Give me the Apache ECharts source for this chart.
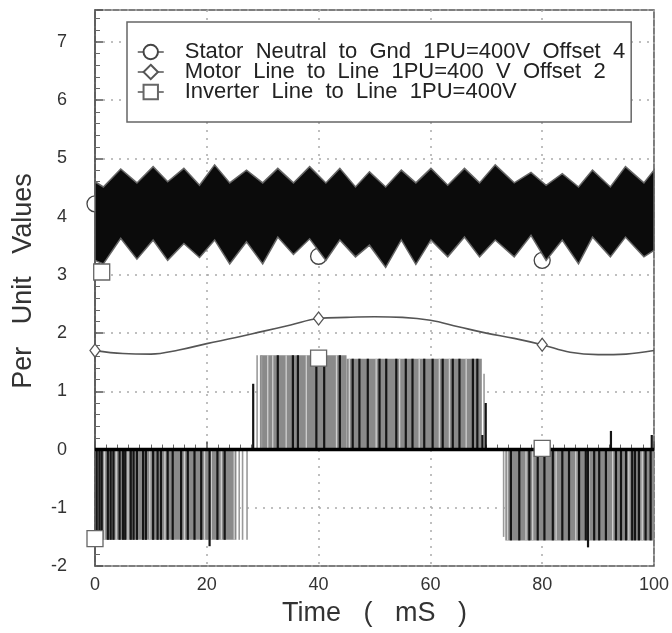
<!DOCTYPE html>
<html><head><meta charset="utf-8">
<script src="https://cdn.jsdelivr.net/npm/echarts@6/dist/echarts.min.js"></script>
<style>html,body{margin:0;padding:0;background:#fff}#c{width:672px;height:633px}</style>
</head><body><div id="c"></div>
<script>
// ---- data ----
const legendNames = ['Stator Neutral to Gnd 1PU=400V Offset 4', 'Motor Line to Line 1PU=400 V Offset 2', 'Inverter Line to Line 1PU=400V'];
const xTicks = [0, 20, 40, 60, 80, 100];
const yTicks = [-2, -1, 0, 1, 2, 3, 4, 5, 6, 7];

// Stator neutral (offset 4): envelope of the dense band
const statorT  = [0,1.5,4.6,7.5,10.4,13.0,15.9,18.7,21.4,24.1,27.1,30.0,32.7,35.5,38.4,41.3,43.8,46.6,49.1,52.0,54.8,57.4,60.1,63.1,66.1,68.8,71.6,75.0,78.0,80.7,83.6,86.5,89.0,92.2,94.9,98.2,100];
const statorHi = [4.60,4.51,4.82,4.58,4.86,4.60,4.83,4.54,4.89,4.58,4.80,4.58,4.83,4.58,4.86,4.58,4.83,4.51,4.77,4.51,4.80,4.58,4.83,4.54,4.83,4.58,4.89,4.58,4.76,4.54,4.74,4.51,4.80,4.51,4.86,4.58,4.80];
const statorLo = [3.25,3.19,3.63,3.27,3.60,3.25,3.54,3.30,3.60,3.19,3.57,3.19,3.65,3.35,3.62,3.25,3.60,3.31,3.51,3.13,3.60,3.18,3.60,3.31,3.65,3.31,3.60,3.31,3.68,3.25,3.60,3.19,3.65,3.31,3.65,3.31,3.42];
const statorMarkT = [0, 40, 80];
const statorMarkV = [4.22, 3.32, 3.25];

// Motor line to line (offset 2)
const motorT = [0,5,10,15,20,25,30,35,40,45,50,55,60,65,70,75,80,85,90,95,100];
const motorV = [1.70,1.65,1.64,1.71,1.82,1.92,2.03,2.14,2.25,2.27,2.28,2.27,2.22,2.11,2.00,1.91,1.80,1.67,1.63,1.64,1.70];
const motorMarkT = [0, 40, 80];
const motorMarkV = [1.70, 2.25, 1.80];

// Inverter line to line (PWM)
const invMarkT = [0, 1.2, 40, 80];
const invMarkV = [-1.53, 3.05, 1.57, 0.02];
const invBaseT = [0, 100];
const invBaseV = [0, 0];
const invBlockStart = [0, 29.5, 45, 73.4];
const invBlockEnd   = [25.3, 45, 69.2, 100];
const invBlockLevel = [-1.55, 1.62, 1.56, -1.56];
const pulseDark = [
 [0.3,-1.55],[0.8,-1.55],[1.2,-1.55],[2.3,-1.55],[2.8,-1.55],[3.3,-1.55],[4.4,-1.55],[5.0,-1.55],[5.4,-1.55],[6.4,-1.55],[6.9,-1.55],[7.5,-1.55],[8.6,-1.55],[9.1,-1.55],[10.4,-1.55],[11.2,-1.55],[11.8,-1.55],[13.0,-1.55],[13.9,-1.55],[15.4,-1.55],[16.6,-1.55],[17.8,-1.55],[19.0,-1.55],[20.5,-1.66],[21.9,-1.55],[23.2,-1.55],
 [28.3,1.13],[32.7,1.62],[35.4,1.62],[36.3,1.62],[39.6,1.62],[41.0,1.62],[43.8,1.62],[46.1,1.56],[47.3,1.56],[48.8,1.56],[50.9,1.56],[52.1,1.56],[53.9,1.56],[55.6,1.56],[56.8,1.56],[58.9,1.56],[60.4,1.56],[62.2,1.56],[64.0,1.56],[65.2,1.56],[67.6,1.56],[68.4,1.56],[69.3,0.25],[69.9,0.8],
 [74.4,-1.56],[75.9,-1.56],[77.7,-1.56],[79.2,-1.56],[80.4,-1.56],[81.9,-1.56],[83.6,-1.56],[84.8,-1.56],[86.6,-1.56],[87.8,-1.56],[88.2,-1.68],[89.3,-1.56],[90.2,-1.56],[91.4,-1.56],[92.3,0.32],[93.2,-1.56],[94.1,-1.56],[95.0,-1.56],[96.1,-1.56],[96.6,-1.56],[97.3,-1.56],[98.5,-1.56],[99.4,-1.56],[99.6,0.25]
];
const pulseLight = [
 [1.7,-1.55],[3.8,-1.55],[5.9,-1.55],[9.8,-1.55],[12.5,-1.55],[16.0,-1.55],[19.6,-1.55],[20.8,-1.55],[22.6,-1.55],[24.9,-1.55],
 [30.9,1.62],[31.8,1.62],[34.2,1.62],[37.8,1.62],[43.2,1.62],[45.5,1.56],[50.3,1.56],[54.5,1.56],[58.0,1.56],[61.6,1.56],[63.4,1.56],[66.4,1.56],
 [73.8,-1.56],[77.1,-1.56],[78.3,-1.56],[82.5,-1.56],[86.0,-1.56],[88.4,-1.56],[92.6,-1.56],[95.5,-1.56],[97.9,-1.56]
];
const pulseMid = [[25.8,-1.55],[26.4,-1.55],[27.2,-1.55],[29.0,1.62],[29.8,1.62],[69.6,1.3],[73.1,-1.5]];

// ---- chart ----
const FONT = 'Liberation Sans, Arial, sans-serif';
const zip = (a, b) => a.map((v, i) => [v, b[i]]);

function pulseSeries(data, color, width, z) {
  return {
    type: 'custom', silent: true, z: z, data: data, encode: { x: 0, y: 1 },
    renderItem: (p, api) => {
      const a = api.coord([api.value(0), 0]);
      const b = api.coord([api.value(0), api.value(1)]);
      return { type: 'line', shape: { x1: a[0], y1: a[1], x2: b[0], y2: b[1] },
               style: { stroke: color, lineWidth: width } };
    }
  };
}

const chart = echarts.init(document.getElementById('c'), null, { renderer: 'canvas' });
const option = {
  animation: false,
  backgroundColor: '#fff',
  grid: { left: 95, right: 15, top: 10, bottom: 67, show: true, borderColor: '#555', borderWidth: 1.5 },
  legend: {
    data: legendNames, orient: 'vertical', left: 127, top: 22,
    padding: [19, 6, 19, 10], itemGap: -2, itemWidth: 26, itemHeight: 18,
    backgroundColor: '#fff', borderColor: '#666', borderWidth: 1.5,
    formatter: name => name.split(' ').join('  '),
    textStyle: { fontFamily: FONT, fontSize: 22, color: '#222', padding: [0, 0, 0, 16] },
    lineStyle: { width: 1.5, color: '#555', opacity: 1 }
  },
  xAxis: {
    type: 'value', min: xTicks[0], max: xTicks[xTicks.length - 1], interval: 20,
    axisLine: { show: true, lineStyle: { color: '#555', width: 1.5 } },
    axisTick: { show: true, inside: true, length: 8, lineStyle: { color: '#555', width: 1.5 } },
    minorTick: { show: true, splitNumber: 10, length: 5, lineStyle: { color: '#666', width: 1 } },
    axisLabel: { margin: 10, fontSize: 18, color: '#333', fontFamily: FONT },
    splitLine: { show: true, lineStyle: { type: [2, 6], color: '#aaa', width: 1.5 } },
    name: 'Time   (   mS   )', nameLocation: 'middle', nameGap: 34,
    nameTextStyle: { fontSize: 27, color: '#333', fontFamily: FONT }
  },
  yAxis: {
    type: 'value', min: yTicks[0], max: 7.55, interval: 1,
    axisLine: { show: true, lineStyle: { color: '#555', width: 1.5 } },
    axisTick: { show: true, inside: true, length: 8, lineStyle: { color: '#555', width: 1.5 } },
    minorTick: { show: true, splitNumber: 5, length: 5, lineStyle: { color: '#666', width: 1 } },
    axisLabel: { margin: 28, fontSize: 18, color: '#333', fontFamily: FONT, showMaxLabel: false,
                 formatter: v => (yTicks.indexOf(v) >= 0 ? String(v) : '') },
    splitLine: { show: true, lineStyle: { type: [2, 6], color: '#aaa', width: 1.5 } },
    name: 'Per   Unit   Values', nameLocation: 'middle', nameGap: 58,
    nameTextStyle: { fontSize: 27, color: '#333', fontFamily: FONT, padding: [0, 0, 0, 14] }
  },
  series: [
    {
      name: legendNames[0], type: 'line', z: 1, data: zip(statorMarkT, statorMarkV),
      symbol: 'circle', symbolSize: 16, clip: false,
      itemStyle: { color: '#fff', borderColor: '#444', borderWidth: 1.3 },
      lineStyle: { width: 0, opacity: 0 }
    },
    {
      type: 'custom', silent: true, z: 3, data: [[0, 0]], encode: { x: 0, y: 1 },
      renderItem: (p, api) => {
        const pts = [];
        for (let i = 0; i < statorT.length; i++) pts.push(api.coord([statorT[i], statorHi[i]]));
        for (let i = statorT.length - 1; i >= 0; i--) pts.push(api.coord([statorT[i], statorLo[i]]));
        return { type: 'polygon', shape: { points: pts }, style: { fill: '#0b0b0b', stroke: '#666', lineWidth: 1.5 } };
      }
    },
    {
      type: 'custom', silent: true, z: 2,
      data: invBlockStart.map((s, i) => [s, invBlockEnd[i], invBlockLevel[i]]),
      encode: { x: [0, 1], y: 2 },
      renderItem: (p, api) => {
        const a = api.coord([api.value(0), api.value(2)]);
        const b = api.coord([api.value(1), 0]);
        return { type: 'rect', shape: { x: Math.min(a[0], b[0]), y: Math.min(a[1], b[1]),
                 width: Math.abs(b[0] - a[0]), height: Math.abs(b[1] - a[1]) },
                 style: { fill: '#8a8a8a' } };
      }
    },
    pulseSeries(pulseMid, '#9a9a9a', 1.6, 2),
    pulseSeries(pulseLight, '#cfcfcf', 1.3, 2),
    pulseSeries(pulseDark, '#151515', 2.2, 2),
    {
      type: 'line', z: 3, data: zip(invBaseT, invBaseV), symbol: 'none', silent: true,
      lineStyle: { color: '#000', width: 3.5 }
    },
    {
      type: 'line', z: 3, data: zip(motorT, motorV), symbol: 'none', smooth: 0.4, silent: true,
      lineStyle: { color: '#555', width: 1.6 }
    },
    {
      name: legendNames[1], type: 'line', z: 4, data: zip(motorMarkT, motorMarkV),
      symbol: 'diamond', symbolSize: [10, 13], clip: false,
      itemStyle: { color: '#fff', borderColor: '#555', borderWidth: 1.3 },
      lineStyle: { width: 0, opacity: 0 }
    },
    {
      name: legendNames[2], type: 'line', z: 4, data: zip(invMarkT, invMarkV),
      symbol: 'rect', symbolSize: 16, clip: false,
      itemStyle: { color: '#fff', borderColor: '#666', borderWidth: 1.3 },
      lineStyle: { width: 0, opacity: 0 }
    }
  ]
};
chart.setOption(option);
</script></body></html>
